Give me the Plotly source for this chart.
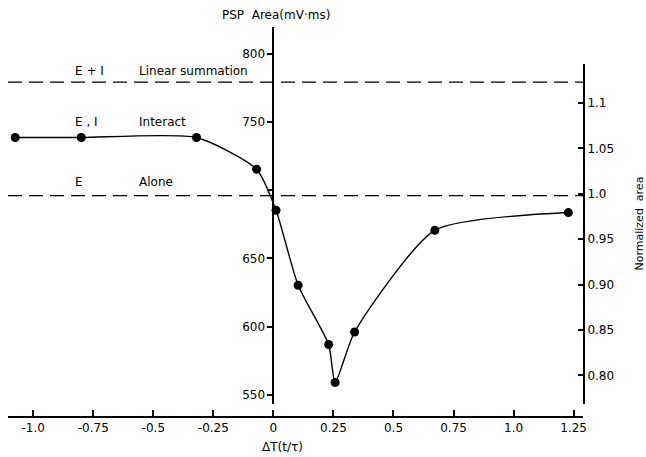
import plotly.graph_objects as go

# Data
delta_t = [-1.075, -0.8, -0.32, -0.07, 0.011, 0.103, 0.23, 0.257, 0.338, 0.672, 1.228]
psp_area = [738.5, 738.5, 738.5, 715.3, 685.3, 630.4, 587.0, 559.2, 596.2, 670.6, 683.6]

linear_summation = 779.0
alone_level = 696.0

x_tickvals = [-1.0, -0.75, -0.5, -0.25, 0, 0.25, 0.5, 0.75, 1.0, 1.25]
x_ticktext = ["-1.0", "-0.75", "-0.5", "-0.25", "0", "0.25", "0.5", "0.75", "1.0", "1.25"]
y_tickvals = [550, 600, 650, 700, 750, 800]
y_ticktext = ["550", "600", "650", "", "750", "800"]
y2_tickvals = [0.80, 0.85, 0.90, 0.95, 1.0, 1.05, 1.1]
y2_ticktext = ["0.80", "0.85", "0.90", "0.95", "1.0", "1.05", "1.1"]

labels_left = ["E + I", "E , I", "E"]
labels_right = ["Linear summation", "Interact", "Alone"]
label_y = [787, 750, 706]

FONT = "DejaVu Sans"
W, H = 646, 457
ML, MR, MT, MB = 8, 63.3, 26.7, 40.3

fig = go.Figure()

fig.add_trace(go.Scatter(x=[None], y=[None], yaxis="y2", showlegend=False, hoverinfo="skip"))

fig.add_trace(go.Scatter(
    x=delta_t, y=psp_area, mode="lines+markers",
    line=dict(color="black", width=1.4, shape="spline", smoothing=0.6),
    marker=dict(color="black", size=9),
    showlegend=False, hoverinfo="skip", cliponaxis=False))

for lvl in [linear_summation, alone_level]:
    fig.add_shape(type="line", xref="paper", yref="y", x0=0, x1=1, y0=lvl, y1=lvl,
                  line=dict(color="black", width=1.3, dash="14px,7px"))

for t, y in zip(labels_left, label_y):
    fig.add_annotation(x=-0.834, y=y, xref="x", yref="y", text=t, showarrow=False,
                       xanchor="left", yanchor="middle",
                       font=dict(family=FONT, size=12, color="black"))
for t, y in zip(labels_right, label_y):
    fig.add_annotation(x=-0.568, y=y, xref="x", yref="y", text=t, showarrow=False,
                       xanchor="left", yanchor="middle",
                       font=dict(family=FONT, size=12, color="black"))

fig.add_annotation(x=0.4663, y=1.03, xref="paper", yref="paper", text="PSP  Area(mV·ms)",
                   showarrow=False, xanchor="center", yanchor="middle",
                   font=dict(family=FONT, size=12, color="black"))
fig.add_annotation(x=0.4777, y=-0.077, xref="paper", yref="paper", text="ΔT(t/τ)",
                   showarrow=False, xanchor="center", yanchor="middle",
                   font=dict(family=FONT, size=12, color="black"))
fig.add_annotation(x=1.098, y=0.497, xref="paper", yref="paper", text="Normalized  area",
                   textangle=-90, showarrow=False, xanchor="center", yanchor="middle",
                   font=dict(family=FONT, size=11, color="black"))

fig.update_layout(
    width=W, height=H,
    margin=dict(l=ML, r=MR, t=MT, b=MB, pad=0),
    paper_bgcolor="white", plot_bgcolor="rgba(0,0,0,0)",
    font=dict(family=FONT, size=12, color="black"),
    xaxis=dict(range=[-1.105, 1.289], domain=[0, 1], anchor="free", position=0,
               showgrid=False, zeroline=False, showline=True, linecolor="black", linewidth=2,
               ticks="inside", ticklen=6, tickwidth=1.5, tickcolor="black",
               tickvals=x_tickvals, ticktext=x_ticktext,
               tickfont=dict(family=FONT, size=12)),
    yaxis=dict(range=[543.8, 819.4], domain=[0.0344, 1], anchor="free", position=0.4617,
               side="left", showgrid=False, zeroline=False, showline=True, linecolor="black",
               linewidth=2, ticks="outside", ticklen=5, tickwidth=1.5, tickcolor="black",
               tickvals=y_tickvals, ticktext=y_ticktext,
               tickfont=dict(family=FONT, size=12)),
    yaxis2=dict(range=[0.7689, 1.1434], domain=[0.0344, 0.9062], anchor="x", side="right",
                showgrid=False, zeroline=False, showline=True, linecolor="black", linewidth=2,
                ticks="inside", ticklen=5, tickwidth=1.5, tickcolor="black",
                tickvals=y2_tickvals, ticktext=y2_ticktext,
                tickfont=dict(family=FONT, size=12)),
)

fig.write_html("out.html")
